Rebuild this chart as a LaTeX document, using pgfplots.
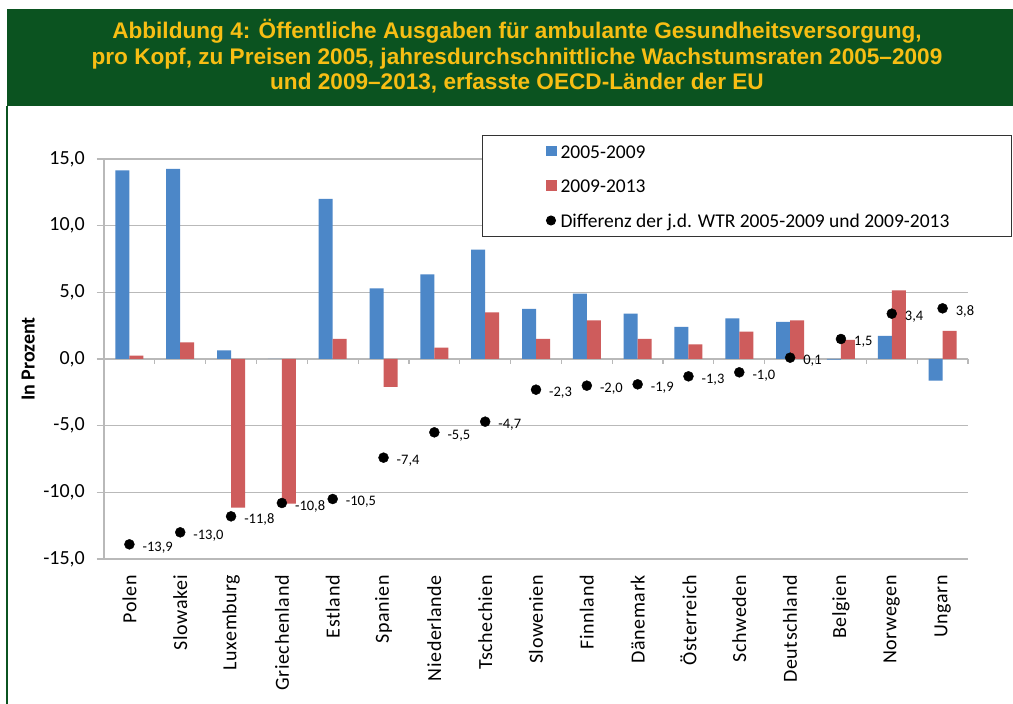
\documentclass[border=0pt]{standalone}
\usepackage{fontspec}
\usepackage{pgfplots}
\usepackage{pgfplotstable}
\pgfplotsset{compat=1.18}
\setmainfont{Carlito}
\newfontfamily\titlefont{Liberation Sans}
\newfontfamily\xlabfont[LetterSpace=3]{Carlito}
\definecolor{hgreen}{RGB}{11,83,32}
\definecolor{htext}{RGB}{247,190,20}
\definecolor{barblue}{RGB}{76,135,200}
\definecolor{barred}{RGB}{206,92,92}
\definecolor{gridgray}{RGB}{185,185,185}

\pgfplotstableread{
x a b d lab
0 14.15 0.25 -13.9 -13,9
1 14.25 1.25 -13.0 -13,0
2 0.65 -11.15 -11.8 -11,8
3 0.0 -10.85 -10.8 -10,8
4 12.0 1.5 -10.5 -10,5
5 5.3 -2.1 -7.4 -7,4
6 6.35 0.85 -5.5 -5,5
7 8.2 3.5 -4.7 -4,7
8 3.75 1.5 -2.3 -2,3
9 4.9 2.9 -2.0 -2,0
10 3.4 1.5 -1.9 -1,9
11 2.4 1.1 -1.3 -1,3
12 3.05 2.05 -1.0 -1,0
13 2.78 2.89 0.1 0,1
14 -0.05 1.43 1.5 1,5
15 1.73 5.15 3.4 3,4
16 -1.63 2.11 3.8 3,8
}\data

\begin{document}
\begin{tikzpicture}
\path[use as bounding box, fill=white] (0bp,0bp) rectangle (1013bp,704bp);
\fill[hgreen] (7bp,598bp) rectangle (1013bp,695bp);
\draw[hgreen, line width=2bp] (7bp,0bp) -- (7bp,598bp);

\begin{axis}[
  at={(104bp,145bp)}, anchor=south west,
  scale only axis, width=864bp, height=400bp,
  xmin=-0.5, xmax=16.5, ymin=-15, ymax=15,
  axis y line*=left, axis x line*=bottom,
  x axis line style={draw=none},
  y axis line style={draw=gridgray, line width=1.2bp, -},
  xtick={0,...,16},
  xticklabels={Polen,Slowakei,Luxemburg,Griechenland,Estland,Spanien,Niederlande,Tschechien,Slowenien,Finnland,Dänemark,Österreich,Schweden,Deutschland,Belgien,Norwegen,Ungarn},
  xtick style={draw=none},
  x tick label style={font=\xlabfont\fontsize{20bp}{24bp}\selectfont, rotate=90, anchor=east, inner sep=0pt},
  xticklabel shift=9bp,
  ytick={-15,-10,...,15},
  yticklabels={{-15,0},{-10,0},{-5,0},{0,0},{5,0},{10,0},{15,0}},
  ymajorgrids, grid style={gridgray, line width=1.2bp},
  tick align=outside, major tick length=7bp,
  ytick style={gridgray, line width=1.2bp},
  y tick label style={font=\fontsize{20bp}{24bp}\selectfont, inner sep=0pt},
  yticklabel shift=12bp,
  ylabel={In Prozent},
  ylabel style={font=\bfseries\fontsize{20bp}{24bp}\selectfont},
  ylabel shift=5bp,
  legend style={at={(0.4375,1.06)}, anchor=north west, draw=black!80, line width=1bp, fill=white,
    font=\fontsize{19.5bp}{23bp}\selectfont, inner xsep=62bp, inner ysep=7bp, row sep=16.5bp,
    nodes={inner sep=0pt, text height=16bp, text depth=2bp}},
  legend cell align=left,
  clip=false,
]
\pgfplotsinvokeforeach{-0.5,0.5,...,16.5}{
  \draw[gridgray, line width=1.2bp] (axis cs:#1,0) -- ([yshift=-5bp]axis cs:#1,0);
}
\addplot[ybar, bar width=14bp, bar shift=-7bp, fill=barblue, draw=none,
  legend image code/.code={\path[draw=none,fill=none] (-1bp,0bp) rectangle (15bp,0bp); \fill[barblue] (0bp,-5bp) rectangle (11bp,5.5bp);}]
  table[x=x, y=a] {\data};
\addlegendentry{2005-2009}
\addplot[ybar, bar width=14bp, bar shift=7bp, fill=barred, draw=none,
  legend image code/.code={\path[draw=none,fill=none] (-1bp,0bp) rectangle (15bp,0bp); \fill[barred] (0bp,-5bp) rectangle (11bp,5.5bp);}]
  table[x=x, y=b] {\data};
\addlegendentry{2009-2013}
\addplot[only marks, mark=*, mark size=5bp, mark options={fill=black, draw=black},
  point meta=explicit symbolic,
  nodes near coords,
  every node near coord/.append style={anchor=west, inner sep=0pt, xshift=13bp, yshift=-3bp,
    font=\fontsize{14.5bp}{17bp}\selectfont, text=black},
  legend image code/.code={\path[draw=none,fill=none] (-1bp,0bp) rectangle (15bp,0bp); \fill[black] (5.5bp,0bp) circle (4.5bp);}]
  table[x=x, y=d, meta=lab] {\data};
\addlegendentry{Differenz der j.d. WTR 2005-2009 und 2009-2013}
\end{axis}

\begin{scope}[every node/.style={anchor=base, text=htext, inner sep=0pt, font=\titlefont\bfseries\fontsize{22.6bp}{26bp}\selectfont}]
\node at (517bp,665bp) {Abbildung 4: Öffentliche Ausgaben für ambulante Gesundheitsversorgung,};
\node at (517bp,639bp) {pro Kopf, zu Preisen 2005, jahresdurchschnittliche Wachstumsraten 2005–2009};
\node at (517bp,614bp) {und 2009–2013, erfasste OECD-Länder der EU};
\end{scope}
\end{tikzpicture}
\end{document}
